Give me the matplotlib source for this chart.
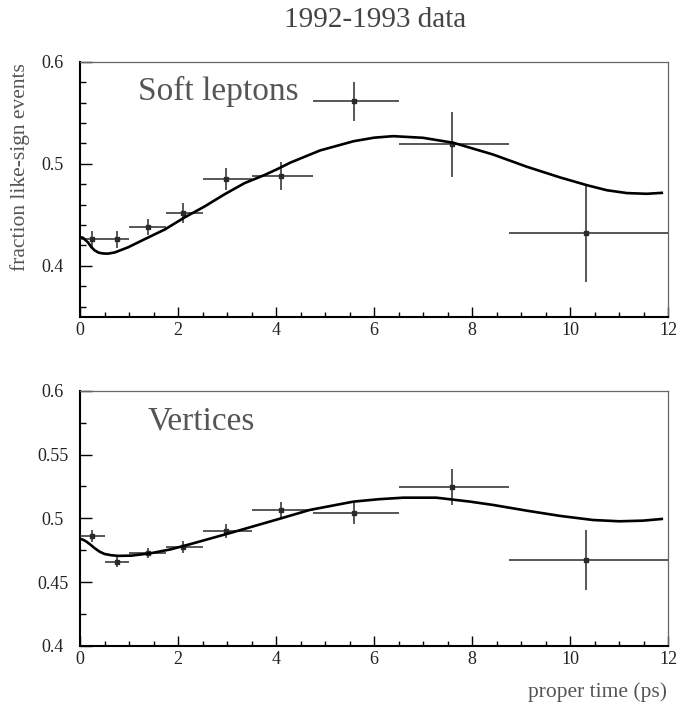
import matplotlib
matplotlib.use("Agg")
import matplotlib.pyplot as plt
from matplotlib.ticker import MultipleLocator

plt.rcParams['font.family'] = ['Liberation Serif', 'DejaVu Serif']

# ---- data ----
t_centers = [0.24, 0.75, 1.38, 2.11, 2.98, 4.11, 5.59, 7.60, 10.33]
bin_lo = [0.0, 0.5, 1.0, 1.75, 2.5, 3.5, 4.75, 6.5, 8.75]
bin_hi = [0.5, 1.0, 1.75, 2.5, 3.5, 4.75, 6.5, 8.75, 12.0]

soft_vals = [0.426, 0.426, 0.438, 0.452, 0.485, 0.488, 0.561, 0.519, 0.432]
soft_errs = [0.0085, 0.0085, 0.008, 0.0097, 0.011, 0.014, 0.019, 0.032, 0.048]

vert_vals = [0.4863, 0.466, 0.4727, 0.4774, 0.490, 0.5066, 0.504, 0.5248, 0.4672]
vert_errs = [0.0045, 0.0042, 0.004, 0.0047, 0.0056, 0.0065, 0.0086, 0.0142, 0.0237]

soft_curve_t = [0, 0.06, 0.16, 0.23, 0.3, 0.38, 0.47, 0.57, 0.71, 0.98, 1.32,
                1.73, 2.14, 2.54, 2.95, 3.36, 3.77, 4.04, 4.29, 4.9, 5.58, 6.0,
                6.39, 7.0, 7.62, 8.43, 9.12, 9.8, 10.34, 10.75, 11.16, 11.57, 11.9]
soft_curve_v = [0.428, 0.4274, 0.423, 0.4183, 0.415, 0.4128, 0.412, 0.4118,
                0.413, 0.418, 0.426, 0.4355, 0.4475, 0.458, 0.470, 0.481, 0.489,
                0.495, 0.501, 0.513, 0.522, 0.5255, 0.527, 0.5254, 0.5205, 0.509,
                0.497, 0.4865, 0.479, 0.474, 0.4712, 0.4705, 0.4715]

vert_curve_t = [0, 0.06, 0.13, 0.22, 0.3, 0.4, 0.5, 0.64, 0.78, 1.05, 1.45, 1.86,
                2.27, 2.68, 3.09, 3.56, 4.04, 4.69, 5.58, 6.1, 6.6, 7.27, 7.96,
                8.43, 9.12, 9.8, 10.47, 11.01, 11.49, 11.9]
vert_curve_v = [0.4839, 0.4833, 0.4818, 0.4792, 0.4766, 0.4739, 0.4721, 0.4711,
                0.4706, 0.4708, 0.4727, 0.4758, 0.480, 0.4844, 0.4888, 0.494,
                0.4993, 0.5066, 0.5131, 0.5150, 0.5162, 0.5162, 0.5131, 0.5105,
                0.506, 0.5019, 0.4987, 0.4977, 0.4982, 0.4996]

panel_titles = ["Soft leptons", "Vertices"]

W, H = 699, 709
fig = plt.figure(figsize=(W / 100, H / 100), dpi=100)

def px_axes(left, top, right, bottom):
    return fig.add_axes([left / W, 1 - bottom / H, (right - left) / W, (bottom - top) / H])

ax1 = px_axes(80, 61.7, 668, 316.7)
ax2 = px_axes(80, 390.7, 668, 646)

tick_col = '#222222'

def style(ax, ylim, ymaj, ymin, yfmt):
    ax.set_xlim(0, 12)
    ax.set_ylim(*ylim)
    ax.xaxis.set_major_locator(MultipleLocator(2))
    ax.xaxis.set_minor_locator(MultipleLocator(0.5))
    ax.yaxis.set_major_locator(MultipleLocator(ymaj))
    ax.yaxis.set_minor_locator(MultipleLocator(ymin))
    for s in ['left', 'bottom']:
        ax.spines[s].set_linewidth(1.5)
        ax.spines[s].set_color('black')
    for s in ['top', 'right']:
        ax.spines[s].set_linewidth(0.9)
        ax.spines[s].set_color('#666666')
    ax.tick_params(axis='both', which='both', direction='in', top=False, right=False,
                   color='black', width=1.0, labelcolor=tick_col, labelsize=13)
    ax.tick_params(axis='y', which='major', length=8.5, pad=19.5)
    ax.tick_params(axis='y', which='minor', length=4.3)
    ax.tick_params(axis='x', which='major', length=7.2, pad=3.5)
    ax.tick_params(axis='x', which='minor', length=3.6)
    ax.set_yticks(ax.get_yticks())
    ax.set_yticklabels([yfmt(v) for v in ax.get_yticks()])
    for lab in ax.get_yticklabels():
        lab.set_horizontalalignment('center')
    ax.set_ylim(*ylim)

def fmt_top(v):
    return ('%.1f' % v)

def fmt_bot(v):
    s = '%.2f' % v
    s = s.rstrip('0')
    if s.endswith('.'):
        s = s + '0'
    return s

style(ax1, (0.35, 0.6), 0.1, 0.02, fmt_top)
style(ax2, (0.4, 0.6), 0.05, 0.025, fmt_bot)

def draw(ax, vals, errs, ct, cv):
    xerr = [[c - lo for c, lo in zip(t_centers, bin_lo)],
            [hi - c for c, hi in zip(t_centers, bin_hi)]]
    ax.errorbar(t_centers, vals, xerr=xerr, yerr=errs, fmt='s', ms=2.3,
                color='#2a2a2a', ecolor='#2a2a2a', elinewidth=1.1, capsize=0,
                zorder=3, clip_on=False)
    ax.plot(ct, cv, color='black', lw=1.9, zorder=4, solid_capstyle='butt',
            solid_joinstyle='round')

draw(ax1, soft_vals, soft_errs, soft_curve_t, soft_curve_v)
draw(ax2, vert_vals, vert_errs, vert_curve_t, vert_curve_v)

ax1.text(138 / W, 1 - 100 / H, panel_titles[0], transform=fig.transFigure,
         fontsize=24, color='#555555', ha='left', va='baseline')
ax2.text(148 / W, 1 - 429.5 / H, panel_titles[1], transform=fig.transFigure,
         fontsize=24, color='#555555', ha='left', va='baseline')

fig.text(375 / W, 1 - 20 / H, "1992-1993 data", fontsize=21, color='#444444',
         ha='center', va='center')
fig.text(20 / W, 1 - 167 / H, "fraction like-sign events", fontsize=15.5,
         color='#555555', rotation=90, ha='center', va='center')
fig.text(667 / W, 1 - 692 / H, "proper time (ps)", fontsize=15.5,
         color='#555555', ha='right', va='center')

fig.savefig("out.png", dpi=100)
